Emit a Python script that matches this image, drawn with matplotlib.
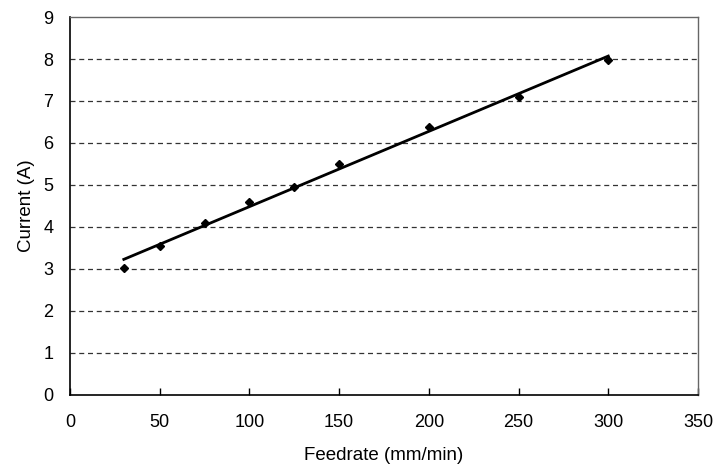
import matplotlib
matplotlib.use("Agg")
import matplotlib.pyplot as plt
import numpy as np

feedrate = [30, 50, 75, 100, 125, 150, 200, 250, 300]
current = [3.03, 3.55, 4.09, 4.60, 4.96, 5.50, 6.37, 7.09, 7.98]
x_ticks = [0, 50, 100, 150, 200, 250, 300, 350]
y_ticks = [0, 1, 2, 3, 4, 5, 6, 7, 8, 9]

plt.rcParams['font.family'] = ['Liberation Sans', 'DejaVu Sans']

fig = plt.figure(figsize=(7.17, 4.71), dpi=100)
ax = fig.add_axes([0.0976, 0.1614, 0.8759, 0.8025])

for yv in y_ticks[1:-1]:
    ax.axhline(yv, color='#333333', lw=0.9, ls=(0, (4, 3)), zorder=1)

coef = np.polyfit(feedrate, current, 1)
xs = np.array([feedrate[0], feedrate[-1]])
ax.plot(xs, np.polyval(coef, xs), color='black', lw=2, zorder=2)
ax.plot(feedrate, current, 'D', color='black', ms=4.5, zorder=3)

ax.set_xlim(0, 350)
ax.set_ylim(0, 9)
ax.set_xticks(x_ticks)
ax.set_yticks(y_ticks)
ax.tick_params(axis='x', direction='in', length=5, width=1, labelsize=13, pad=14, colors='black')
ax.tick_params(axis='y', length=0, labelsize=13, pad=12)
for s in ['left', 'bottom']:
    ax.spines[s].set_color('black')
    ax.spines[s].set_linewidth(1.2)
for s in ['top', 'right']:
    ax.spines[s].set_color('#666666')
    ax.spines[s].set_linewidth(1.0)

ax.set_xlabel('Feedrate (mm/min)', fontsize=13.5, labelpad=11)
ax.set_ylabel('Current (A)', fontsize=13.5, labelpad=6)

fig.savefig('out.png', dpi=100)
